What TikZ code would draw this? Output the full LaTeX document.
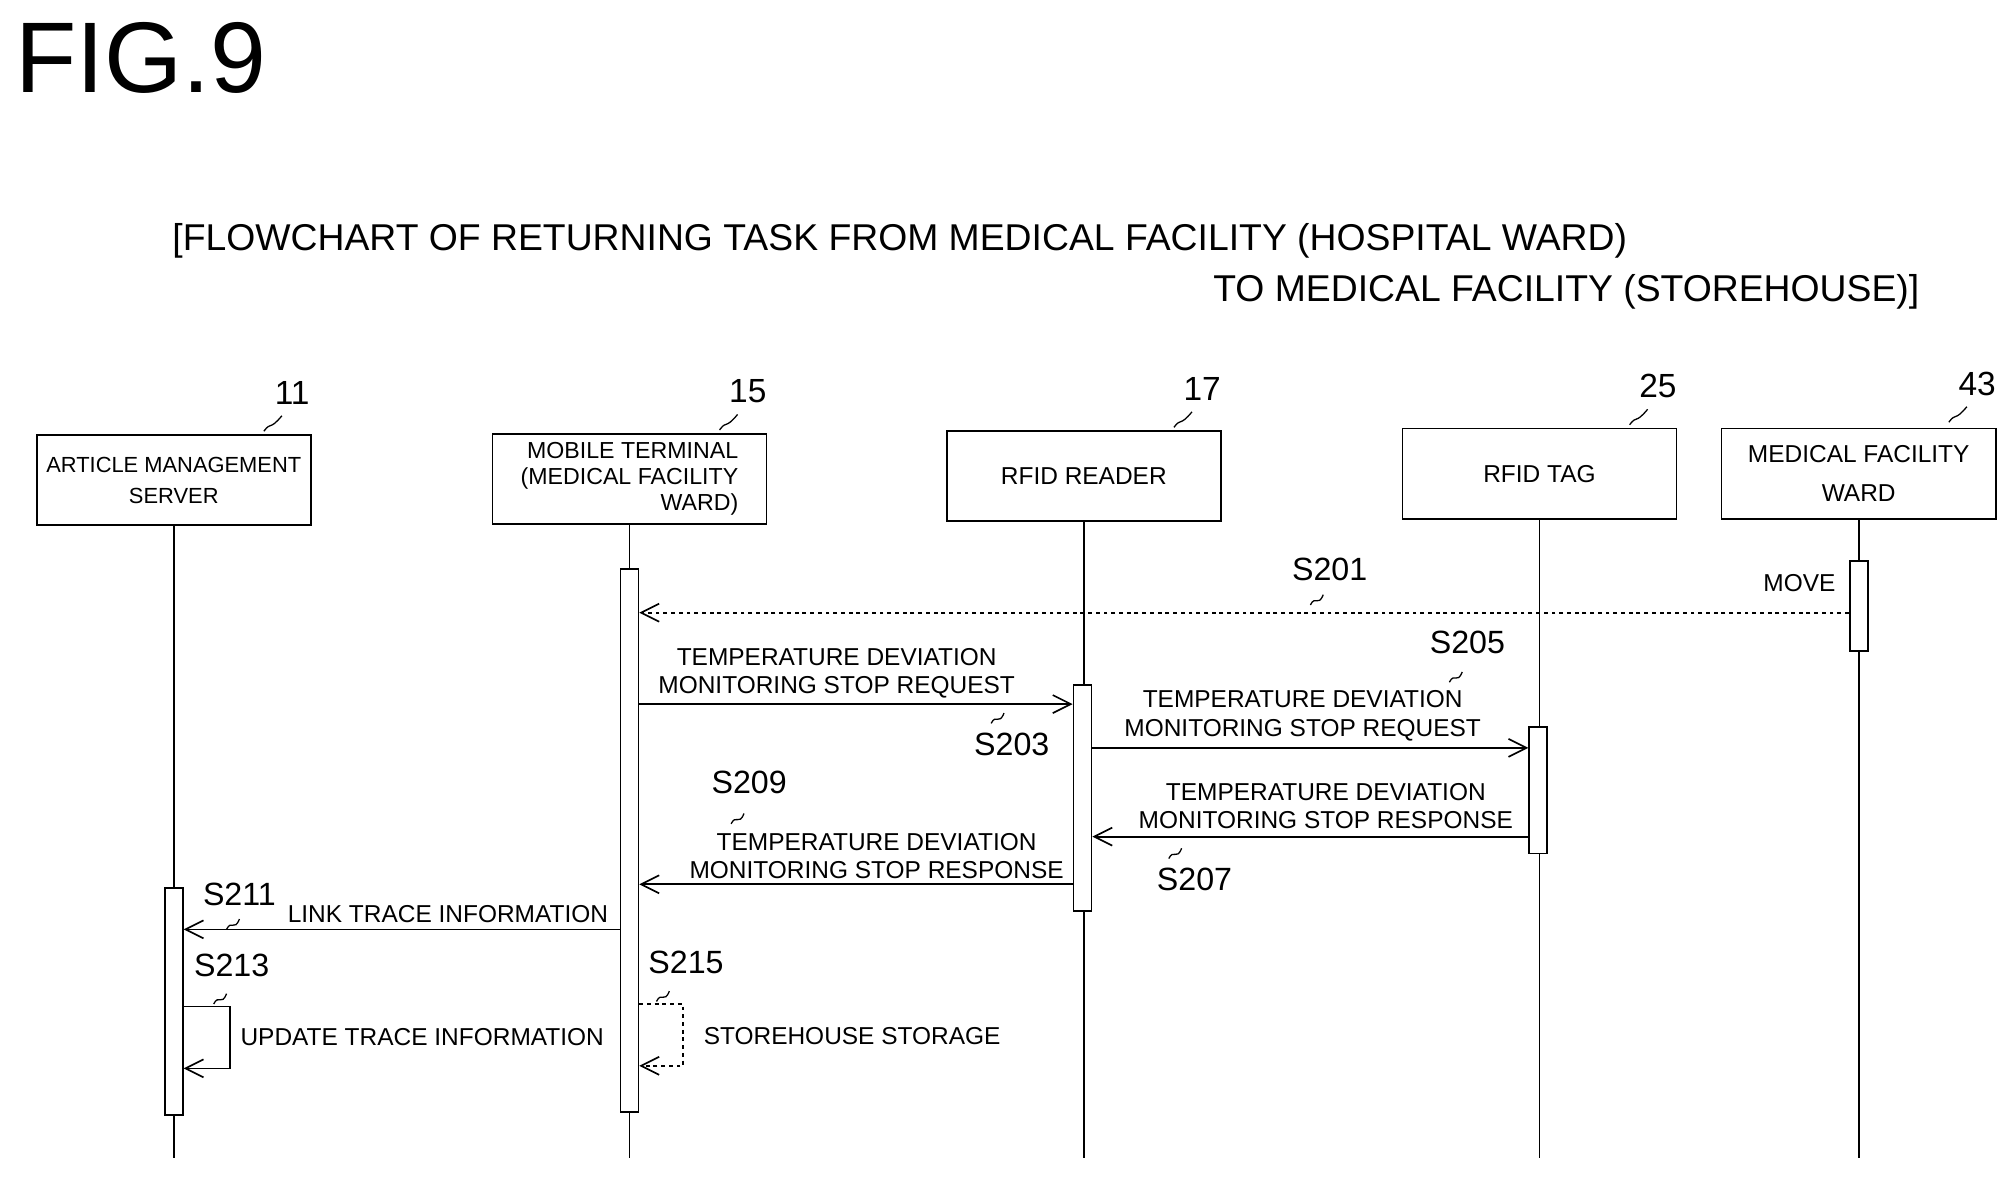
\documentclass[tikz,border=0pt]{standalone}
\usepackage{fontspec}
\setmainfont{Liberation Sans}
\usetikzlibrary{arrows.meta}
\begin{document}
\begin{tikzpicture}[x=1pt,y=-1pt,line width=1.3pt,
    box/.style={draw,minimum width=213pt,minimum height=70pt,inner sep=2pt,align=center,font=\fontsize{19}{21}\selectfont},
    act/.style={draw,fill=white,minimum width=14pt,inner sep=0pt},
    msg/.style={-{Straight Barb[length=14pt,width=14pt]}},
    lbl/.style={font=\fontsize{19}{22}\selectfont,align=center,inner sep=1pt},
    stp/.style={font=\fontsize{25}{27}\selectfont,inner sep=1pt},
    ref/.style={font=\fontsize{26}{28}\selectfont,inner sep=1pt}]
  \useasboundingbox (0,0) rectangle (1560,915);
  \def\sq#1#2{\draw[line width=1pt] (#1,#2) .. controls (#1+4,#2-8) and (#1+6,#2+2) .. (#1+10,#2-8);}

  \node[font=\fontsize{78}{80}\selectfont,anchor=west] (fig) at (8,45) {FIG.9};
  \node[font=\fontsize{29}{31}\selectfont,anchor=west] (t1) at (130,187) {[FLOWCHART OF RETURNING TASK FROM MEDICAL FACILITY (HOSPITAL WARD)};
  \node[font=\fontsize{29}{31}\selectfont,anchor=east] (t2) at (1495,227) {TO MEDICAL FACILITY (STOREHOUSE)]};

  % lifelines
  \node[box,font=\fontsize{17}{24}\selectfont] (srv) at (135,373) {ARTICLE MANAGEMENT\\SERVER};
  \node[box,align=right,font=\fontsize{18}{20}\selectfont] (mob) at (489,372) {MOBILE TERMINAL\\(MEDICAL FACILITY\\WARD)};
  \node[box] (rdr) at (842,370) {RFID READER};
  \node[box] (tag) at (1196,368) {RFID TAG};
  \node[box,font=\fontsize{19}{30}\selectfont] (wrd) at (1444,368) {MEDICAL FACILITY\\WARD};
  \foreach \n/\x/\y/\r in {srv/135/305/11,mob/489/304/15,rdr/842/302/17,tag/1196/300/25,wrd/1444/298/43}{
    \node[ref] at (\x+92,\y) {\r};
    \draw[line width=1pt] (\x+70,\y+30) .. controls (\x+76,\y+22) and (\x+74,\y+30) .. (\x+84,\y+18);
    \draw (\n.south) -- (\n.south |- 0,900);
  }

  \node[act,minimum height=422pt] (amob) at (489,653) {};
  \node[act,minimum height=176pt] (ardr) at (841,620) {};
  \node[act,minimum height=98pt] (atag) at (1195,614) {};
  \node[act,minimum height=70pt] (awrd) at (1444,471) {};
  \node[act,minimum height=176pt] (asrv) at (135,778) {};

  % messages
  \draw[msg,dashed] (awrd.west |- 0,476) -- (amob.east |- 0,476);
  \node[lbl] (mv) at (1398,453) {MOVE};
  \node[stp] (s201) at (1033,442) {S201}; \sq{1018}{470}
  \draw[msg] (amob.east |- 0,547) -- (ardr.west |- 0,547);
  \node[lbl] at (650,523) {TEMPERATURE DEVIATION\\MONITORING STOP REQUEST};
  \node[stp] (s203) at (786,578) {S203}; \sq{770}{562}
  \draw[msg] (ardr.east |- 0,581) -- (atag.west |- 0,581);
  \node[lbl] at (1012,556) {TEMPERATURE DEVIATION\\MONITORING STOP REQUEST};
  \node[stp] (s205) at (1140,499) {S205}; \sq{1126}{530}
  \draw[msg] (atag.west |- 0,650) -- (ardr.east |- 0,650);
  \node[lbl] at (1030,626) {TEMPERATURE DEVIATION\\MONITORING STOP RESPONSE};
  \node[stp] (s207) at (928,683) {S207}; \sq{908}{667}
  \draw[msg] (ardr.west |- 0,687) -- (amob.east |- 0,687);
  \node[lbl] at (681,665) {TEMPERATURE DEVIATION\\MONITORING STOP RESPONSE};
  \node[stp] (s209) at (582,608) {S209}; \sq{568}{640}
  \draw[msg] (amob.west |- 0,722) -- (asrv.east |- 0,722);
  \node[lbl] at (348,710) {LINK TRACE INFORMATION};
  \node[stp] (s211) at (186,695) {S211}; \sq{176}{722}
  \draw[msg] (asrv.east |- 0,782) -- ++(36,0) -- ++(0,48) -- (asrv.east |- 0,830);
  \node[lbl] at (328,806) {UPDATE TRACE INFORMATION};
  \node[stp] (s213) at (180,750) {S213}; \sq{166}{780}
  \draw[msg,dashed] (amob.east |- 0,780) -- ++(34,0) -- ++(0,48) -- (amob.east |- 0,828);
  \node[lbl] at (662,805) {STOREHOUSE STORAGE};
  \node[stp] (s215) at (533,748) {S215}; \sq{510}{778}
\end{tikzpicture}
\end{document}
